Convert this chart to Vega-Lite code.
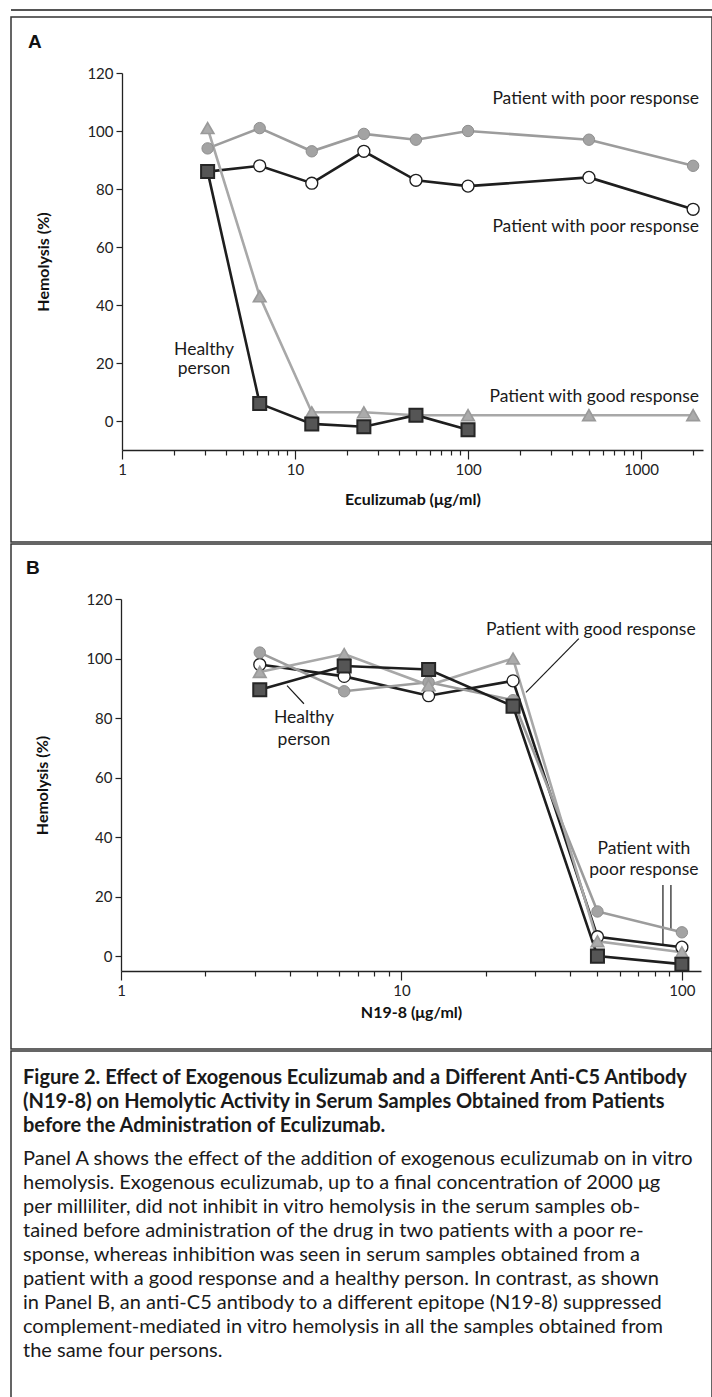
{
  "$schema": "https://vega.github.io/schema/vega-lite/v6.json",
  "padding": {"left": 10, "top": 9, "right": 1, "bottom": 0},
  "background": "white",
  "spacing": 5,
  "config": {
    "view": {"stroke": null},
    "axis": {"grid": false, "labelFont": "Lato", "titleFont": "Lato", "labelColor": "#222", "titleColor": "#111", "domainColor": "#222", "tickColor": "#222", "domainWidth": 1.3, "tickWidth": 1.2, "labelFontSize": 15, "titleFontSize": 16, "titleFontWeight": "bold", "labelOverlap": false, "labelFlush": false},
    "text": {"font": "Lato", "color": "#1a1a1a"}
  },
  "datasets": {
    "a_series": [
      {"series": "poor2", "x": 3.125, "y": 86}, {"series": "poor2", "x": 6.25, "y": 88}, {"series": "poor2", "x": 12.5, "y": 82}, {"series": "poor2", "x": 25, "y": 93}, {"series": "poor2", "x": 50, "y": 83}, {"series": "poor2", "x": 100, "y": 81}, {"series": "poor2", "x": 500, "y": 84}, {"series": "poor2", "x": 2000, "y": 73},
      {"series": "poor1", "x": 3.125, "y": 94}, {"series": "poor1", "x": 6.25, "y": 101}, {"series": "poor1", "x": 12.5, "y": 93}, {"series": "poor1", "x": 25, "y": 99}, {"series": "poor1", "x": 50, "y": 97}, {"series": "poor1", "x": 100, "y": 100}, {"series": "poor1", "x": 500, "y": 97}, {"series": "poor1", "x": 2000, "y": 88},
      {"series": "good", "x": 3.125, "y": 101}, {"series": "good", "x": 6.25, "y": 43}, {"series": "good", "x": 12.5, "y": 3}, {"series": "good", "x": 25, "y": 3}, {"series": "good", "x": 50, "y": 2}, {"series": "good", "x": 100, "y": 2}, {"series": "good", "x": 500, "y": 2}, {"series": "good", "x": 2000, "y": 2},
      {"series": "healthy", "x": 3.125, "y": 86}, {"series": "healthy", "x": 6.25, "y": 6}, {"series": "healthy", "x": 12.5, "y": -1}, {"series": "healthy", "x": 25, "y": -2}, {"series": "healthy", "x": 50, "y": 2}, {"series": "healthy", "x": 100, "y": -3}
    ],
    "b_series": [
      {"series": "poor2", "x": 3.125, "y": 98}, {"series": "poor2", "x": 6.25, "y": 94}, {"series": "poor2", "x": 12.5, "y": 87.5}, {"series": "poor2", "x": 25, "y": 92.5}, {"series": "poor2", "x": 50, "y": 6.5}, {"series": "poor2", "x": 100, "y": 3},
      {"series": "poor1", "x": 3.125, "y": 102}, {"series": "poor1", "x": 6.25, "y": 89}, {"series": "poor1", "x": 12.5, "y": 92}, {"series": "poor1", "x": 25, "y": 86}, {"series": "poor1", "x": 50, "y": 15}, {"series": "poor1", "x": 100, "y": 8},
      {"series": "good", "x": 3.125, "y": 95.5}, {"series": "good", "x": 6.25, "y": 101.5}, {"series": "good", "x": 12.5, "y": 91}, {"series": "good", "x": 25, "y": 100}, {"series": "good", "x": 50, "y": 5}, {"series": "good", "x": 100, "y": 1.3},
      {"series": "healthy", "x": 3.125, "y": 89.5}, {"series": "healthy", "x": 6.25, "y": 97.5}, {"series": "healthy", "x": 12.5, "y": 96.3}, {"series": "healthy", "x": 25, "y": 84}, {"series": "healthy", "x": 50, "y": 0}, {"series": "healthy", "x": 100, "y": -2.7}
    ],
    "a_lab_right": [
      {"x": 2163, "y": 111, "text": "Patient with poor response"},
      {"x": 2163, "y": 67, "text": "Patient with poor response"},
      {"x": 2163, "y": 8.3, "text": "Patient with good response"}
    ],
    "a_lab_center": [
      {"x": 2.98, "y": 24.5, "text": "Healthy"},
      {"x": 2.98, "y": 18, "text": "person"}
    ],
    "b_lab_right": [
      {"x": 112, "y": 109.6, "text": "Patient with good response"}
    ],
    "b_lab_center": [
      {"x": 4.49, "y": 80.1, "text": "Healthy"},
      {"x": 4.49, "y": 72.7, "text": "person"},
      {"x": 73.2, "y": 36, "text": "Patient with"},
      {"x": 73.2, "y": 29, "text": "poor response"}
    ],
    "b_leaders": [
      {"x": 42.9, "y": 106.7, "x2": 27.8, "y2": 88.6},
      {"x": 3.91, "y": 90.9, "x2": 4.49, "y2": 84.8},
      {"x": 85.6, "y": 23.9, "x2": 85.6, "y2": 3.7},
      {"x": 91.4, "y": 23.9, "x2": 91.4, "y2": 8.9}
    ],
    "caption": [
      {"col": 0, "line": 1, "text": "Figure 2. Effect of Exogenous Eculizumab and a Different Anti-C5 Antibody"},
      {"col": 0, "line": 2, "text": "(N19-8) on Hemolytic Activity in Serum Samples Obtained from Patients"},
      {"col": 0, "line": 3, "text": "before the Administration of Eculizumab."},
      {"col": 0, "line": 4, "text": "Panel A shows the effect of the addition of exogenous eculizumab on in vitro"},
      {"col": 0, "line": 5, "text": "hemolysis. Exogenous eculizumab, up to a final concentration of 2000 μg"},
      {"col": 0, "line": 6, "text": "per milliliter, did not inhibit in vitro hemolysis in the serum samples ob-"},
      {"col": 0, "line": 7, "text": "tained before administration of the drug in two patients with a poor re-"},
      {"col": 0, "line": 8, "text": "sponse, whereas inhibition was seen in serum samples obtained from a"},
      {"col": 0, "line": 9, "text": "patient with a good response and a healthy person. In contrast, as shown"},
      {"col": 0, "line": 10, "text": "in Panel B, an anti-C5 antibody to a different epitope (N19-8) suppressed"},
      {"col": 0, "line": 11, "text": "complement-mediated in vitro hemolysis in all the samples obtained from"},
      {"col": 0, "line": 12, "text": "the same four persons."}
    ]
  },
  "vconcat": [
    {
      "width": 701, "height": 2,
      "view": {"fill": "#555555", "stroke": null},
      "data": {"values": []},
      "mark": "rule",
      "encoding": {}
    },
    {
      "spacing": 0,
      "vconcat": [
        {
          "width": 701, "height": 525,
          "view": {"stroke": "#333333", "strokeWidth": 1.5},
          "encoding": {
            "x": {"field": "x", "type": "quantitative",
              "scale": {"type": "log", "domain": [1, 2281], "range": [111, 692], "nice": false},
              "axis": {"orient": "bottom", "offset": -92, "values": [1,2,3,4,5,6,7,8,9,10,20,30,40,50,60,70,80,90,100,200,300,400,500,600,700,800,900,1000,2000], "format": "d",
                "labelExpr": "indexof([1,10,100,1000], datum.value) >= 0 ? datum.label : ''",
                "tickSize": {"condition": {"test": "indexof([1,10,100,1000], datum.value) >= 0", "value": 9}, "value": 5},
                "labelPadding": 3, "title": "Eculizumab  (μg/ml)", "titlePadding": 14}},
            "y": {"field": "y", "type": "quantitative",
              "scale": {"domain": [-10, 120], "range": [433, 56], "nice": false, "zero": false},
              "axis": {"orient": "left", "offset": -111, "values": [0,20,40,60,80,100,120], "tickSize": 6, "labelPadding": 3, "title": "Hemolysis (%)", "titlePadding": 35}}
          },
          "layer": [
            {
              "data": {"name": "a_series"},
              "mark": {"type": "line", "strokeWidth": 2.6},
              "encoding": {
                "color": {"field": "series", "type": "nominal", "scale": {"domain": ["poor1", "poor2", "good", "healthy"], "range": ["#9c9c9c", "#1e1e1e", "#a8a8a8", "#1e1e1e"]}, "legend": null}
              }
            },
            {
              "data": {"name": "a_series"},
              "mark": {"type": "point", "filled": true, "opacity": 1},
              "encoding": {
                "shape": {"field": "series", "type": "nominal", "scale": {"domain": ["poor1", "poor2", "good", "healthy"], "range": ["circle", "circle", "triangle-up", "square"]}, "legend": null},
                "fill": {"field": "series", "type": "nominal", "scale": {"domain": ["poor1", "poor2", "good", "healthy"], "range": ["#a3a3a3", "#ffffff", "#ababab", "#555555"]}, "legend": null},
                "stroke": {"field": "series", "type": "nominal", "scale": {"domain": ["poor1", "poor2", "good", "healthy"], "range": ["#8f8f8f", "#1e1e1e", "#9a9a9a", "#262626"]}, "legend": null},
                "size": {"field": "series", "type": "ordinal", "scale": {"domain": ["poor1", "poor2", "good", "healthy"], "range": [130, 170, 150, 140]}, "legend": null},
                "strokeWidth": {"field": "series", "type": "ordinal", "scale": {"domain": ["poor1", "poor2", "good", "healthy"], "range": [1, 2, 1, 1.2]}, "legend": null}
              }
            },
            {
              "data": {"name": "a_lab_right"},
              "mark": {"type": "text", "align": "right", "baseline": "middle", "fontSize": 17.5},
              "encoding": {"text": {"field": "text"}}
            },
            {
              "data": {"name": "a_lab_center"},
              "mark": {"type": "text", "align": "center", "baseline": "middle", "fontSize": 17.5},
              "encoding": {"text": {"field": "text"}}
            },
            {
              "data": {"values": [{"x": 0.286, "y": 130.7, "text": "A"}]},
              "mark": {"type": "text", "align": "left", "baseline": "middle", "font": "Liberation Sans", "fontWeight": "bold", "fontSize": 19, "color": "#111"},
              "encoding": {"text": {"field": "text"}}
            }
          ]
        },
        {
          "width": 701, "height": 505,
          "view": {"stroke": "#333333", "strokeWidth": 1.5},
          "encoding": {
            "x": {"field": "x", "type": "quantitative",
              "scale": {"type": "log", "domain": [1, 117], "range": [110, 690], "nice": false},
              "axis": {"orient": "bottom", "offset": -78, "values": [1,2,3,4,5,6,7,8,9,10,20,30,40,50,60,70,80,90,100], "format": "d",
                "labelExpr": "indexof([1,10,100], datum.value) >= 0 ? datum.label : ''",
                "tickSize": {"condition": {"test": "indexof([1,10,100], datum.value) >= 0", "value": 9}, "value": 5},
                "labelPadding": 3, "title": "N19-8 (μg/ml)", "titlePadding": 6}},
            "y": {"field": "y", "type": "quantitative",
              "scale": {"domain": [-5, 120], "range": [427, 55], "nice": false, "zero": false},
              "axis": {"orient": "left", "offset": -110, "values": [0,20,40,60,80,100,120], "tickSize": 6, "labelPadding": 3, "title": "Hemolysis (%)", "titlePadding": 35}}
          },
          "layer": [
            {
              "data": {"name": "b_leaders"},
              "mark": {"type": "rule", "color": "#1a1a1a", "strokeWidth": 1.2},
              "encoding": {"x2": {"field": "x2"}, "y2": {"field": "y2"}}
            },
            {
              "data": {"name": "b_series"},
              "mark": {"type": "line", "strokeWidth": 2.6},
              "encoding": {
                "color": {"field": "series", "type": "nominal", "scale": {"domain": ["poor1", "poor2", "good", "healthy"], "range": ["#9c9c9c", "#1e1e1e", "#a8a8a8", "#1e1e1e"]}, "legend": null}
              }
            },
            {
              "data": {"name": "b_series"},
              "mark": {"type": "point", "filled": true, "opacity": 1},
              "encoding": {
                "shape": {"field": "series", "type": "nominal", "scale": {"domain": ["poor1", "poor2", "good", "healthy"], "range": ["circle", "circle", "triangle-up", "square"]}, "legend": null},
                "fill": {"field": "series", "type": "nominal", "scale": {"domain": ["poor1", "poor2", "good", "healthy"], "range": ["#a3a3a3", "#ffffff", "#ababab", "#555555"]}, "legend": null},
                "stroke": {"field": "series", "type": "nominal", "scale": {"domain": ["poor1", "poor2", "good", "healthy"], "range": ["#8f8f8f", "#1e1e1e", "#9a9a9a", "#262626"]}, "legend": null},
                "size": {"field": "series", "type": "ordinal", "scale": {"domain": ["poor1", "poor2", "good", "healthy"], "range": [130, 170, 150, 140]}, "legend": null},
                "strokeWidth": {"field": "series", "type": "ordinal", "scale": {"domain": ["poor1", "poor2", "good", "healthy"], "range": [1, 2, 1, 1.2]}, "legend": null}
              }
            },
            {
              "data": {"name": "b_lab_right"},
              "mark": {"type": "text", "align": "right", "baseline": "middle", "fontSize": 17.5},
              "encoding": {"text": {"field": "text"}}
            },
            {
              "data": {"name": "b_lab_center"},
              "mark": {"type": "text", "align": "center", "baseline": "middle", "fontSize": 17.5},
              "encoding": {"text": {"field": "text"}}
            },
            {
              "data": {"values": [{"x": 0.458, "y": 130.4, "text": "B"}]},
              "mark": {"type": "text", "align": "left", "baseline": "middle", "font": "Liberation Sans", "fontWeight": "bold", "fontSize": 19, "color": "#111"},
              "encoding": {"text": {"field": "text"}}
            }
          ]
        },
        {
          "width": 701, "height": 350,
          "view": {"stroke": "#333333", "strokeWidth": 1.5},
          "data": {"name": "caption"},
          "encoding": {
            "x": {"field": "col", "type": "quantitative", "scale": {"domain": [0, 1], "range": [12, 691]}, "axis": null},
            "y": {"field": "line", "type": "quantitative", "scale": {"domain": [1, 12], "range": [27, 291]}, "axis": null},
            "text": {"field": "text"}
          },
          "layer": [
            {
              "transform": [{"filter": "datum.line <= 3"}],
              "mark": {"type": "text", "align": "left", "baseline": "middle", "fontWeight": "bold", "fontSize": 20}
            },
            {
              "transform": [{"filter": "datum.line > 3"}],
              "mark": {"type": "text", "align": "left", "baseline": "middle", "fontSize": 20, "dy": 9}
            }
          ]
        }
      ]
    }
  ]
}
